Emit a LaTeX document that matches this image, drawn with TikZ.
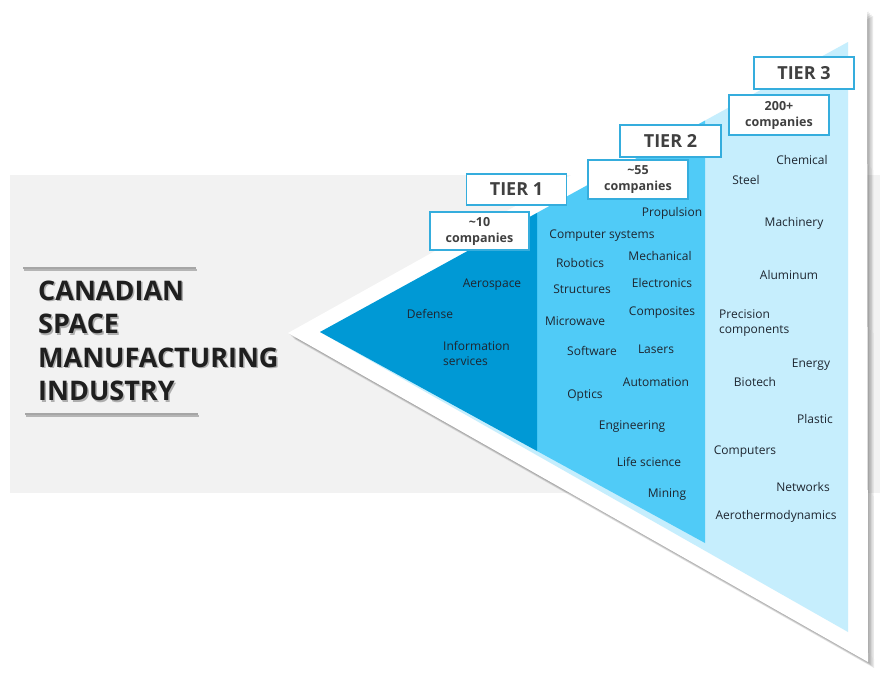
\documentclass[tikz,border=0pt]{standalone}
\usepackage{fontspec}
\setmainfont{Open Sans}
\definecolor{bgray}{HTML}{F2F2F2}
\definecolor{tone}{HTML}{0099D5}
\definecolor{ttwo}{HTML}{50CBF7}
\definecolor{tthree}{HTML}{C6EEFD}
\definecolor{boxblue}{HTML}{35ADDD}
\definecolor{txt}{HTML}{1E2630}
\definecolor{hdr}{HTML}{404040}
\definecolor{rule}{HTML}{A6A6A6}
\begin{document}
\begin{tikzpicture}[x=1pt,y=-1pt,
  lbl/.style={font=\fontsize{12}{15}\selectfont, text=txt, inner sep=0pt, text height=9pt, text depth=3pt},
  lbltwo/.style={font=\fontsize{12}{15}\selectfont, text=txt, inner sep=0pt, align=left},
  tierbox/.style={draw=boxblue, line width=1.2pt, fill=white, minimum width=100pt, minimum height=31pt, font=\fontsize{18}{20}\selectfont\bfseries, text=hdr, inner sep=0pt},
  cntbox/.style={draw=boxblue, line width=1.2pt, fill=white, minimum width=99pt, minimum height=38pt, font=\fontsize{12.5}{16}\selectfont\bfseries, text=hdr, align=center, inner sep=0pt},
  ttl/.style={font=\fontsize{27}{33}\selectfont\bfseries, text=black!88, inner sep=0pt, anchor=base west},
  ttlsh/.style={font=\fontsize{27}{33}\selectfont\bfseries, text=black, opacity=0.28, inner sep=0pt, anchor=base west},
  shadowpoly/.style={fill=black, opacity=0.09}
]
\useasboundingbox (0,0) rectangle (880,672);
\fill[white] (0,0) rectangle (880,672);
% gray band
\fill[bgray] (10,175) rectangle (880,493);
% title rules
\draw[black, opacity=0.25, line width=2pt] (24,269.5) -- (197,269.5);
\draw[rule, line width=2pt] (23,268) -- (196,268);
\draw[black, opacity=0.25, line width=2pt] (26,415.5) -- (199,415.5);
\draw[rule, line width=2pt] (25,414) -- (198,414);
% title with shadow
\node[ttlsh] (s1) at (39.5,301.5) {CANADIAN};
\node[ttlsh] (s2) at (39.5,335) {SPACE};
\node[ttlsh] (s3) at (39.5,368.5) {MANUFACTURING};
\node[ttlsh] (s4) at (39.5,402) {INDUSTRY};
\node[ttl] (t1) at (38,300) {CANADIAN};
\node[ttl] (t2) at (38,333.5) {SPACE};
\node[ttl] (t3) at (38,367) {MANUFACTURING};
\node[ttl] (t4) at (38,400.5) {INDUSTRY};
% outer triangle shadow
\foreach \d in {1.5,3,4.5,6}{
  \fill[shadowpoly] (288+\d,333+\d) -- (867+\d,10+\d) -- (868+\d,662+\d) -- cycle;
}
\fill[white] (288,333) -- (867,10) -- (868,662) -- cycle;
% tiers
\fill[tthree] (320,332) -- (848,42) -- (848,632) -- cycle;
\fill[ttwo] (537,212.9) -- (705,120.6) -- (705,543) -- (537,451) -- cycle;
\fill[tone] (320,332) -- (537,212.9) -- (537,451) -- cycle;
% boxes
\node[tierbox] (tier1) at (516.5,189.5) {TIER 1};
\node[cntbox] (c1) at (479.5,231) {\textasciitilde 10\\companies};
\node[tierbox, minimum width=101pt, minimum height=32pt] (tier2) at (670.5,141) {TIER 2};
\node[cntbox, minimum width=100pt, minimum height=39pt] (c2) at (638,179.5) {\textasciitilde 55\\companies};
\node[tierbox, minimum height=32pt] (tier3) at (804,73) {TIER 3};
\node[cntbox, minimum width=100pt, minimum height=40pt] (c3) at (779,115) {200+\\companies};
% tier 1 labels
\node[lbl] (aero) at (492,284) {Aerospace};
\node[lbl] (def) at (430,315) {Defense};
\node[lbltwo, anchor=west] (info) at (443,353.5) {Information\\services};
% tier 2 labels
\node[lbl] (prop) at (672,213) {Propulsion};
\node[lbl] (comps) at (602,235) {Computer systems};
\node[lbl] (mech) at (660,257) {Mechanical};
\node[lbl] (robo) at (580,264) {Robotics};
\node[lbl] (elec) at (662,284) {Electronics};
\node[lbl] (struc) at (582,290) {Structures};
\node[lbl] (compo) at (662,312) {Composites};
\node[lbl] (micro) at (575,322) {Microwave};
\node[lbl] (soft) at (592,352) {Software};
\node[lbl] (laser) at (656,350) {Lasers};
\node[lbl] (auto) at (656,383) {Automation};
\node[lbl] (opt) at (585,395) {Optics};
\node[lbl] (eng) at (632,426) {Engineering};
\node[lbl] (life) at (649,463) {Life science};
\node[lbl] (mine) at (667,494) {Mining};
% tier 3 labels
\node[lbl] (chem) at (802,161) {Chemical};
\node[lbl] (steel) at (746,181) {Steel};
\node[lbl] (mach) at (794,223) {Machinery};
\node[lbl] (alu) at (789,276) {Aluminum};
\node[lbltwo, anchor=west] (prec) at (719,323.5) {Precision\\components};
\node[lbl] (ener) at (811,364) {Energy};
\node[lbl] (bio) at (755,383) {Biotech};
\node[lbl] (plast) at (815,420) {Plastic};
\node[lbl] (compu) at (745,451) {Computers};
\node[lbl] (net) at (803,488) {Networks};
\node[lbl] (aerot) at (776,516) {Aerothermodynamics};
\end{tikzpicture}
\end{document}
